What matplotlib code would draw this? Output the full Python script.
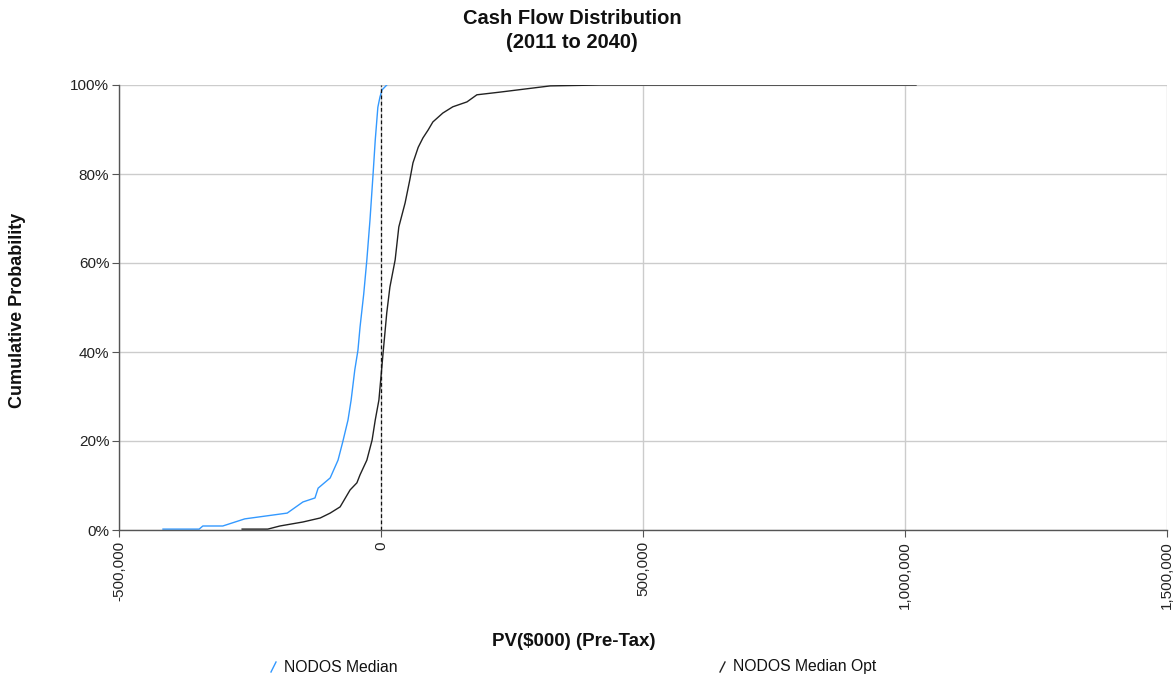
import matplotlib
matplotlib.use("Agg")
import matplotlib.pyplot as plt
from matplotlib.lines import Line2D
from matplotlib.ticker import FuncFormatter

plt.rcParams['font.family'] = ['Liberation Sans', 'DejaVu Sans']

# PV values ($000) and cumulative probability (%)
median_pv = [-416000, -347000, -340000, -302000, -260000, -179000, -149000, -126000,
             -120000, -97000, -82000, -73000, -63000, -57000, -50000, -44000, -40000,
             -33000, -27000, -21000, -15000, -11000, -6000, -2000, 2000, 11000]
median_p = [0.2, 0.2, 0.9, 0.9, 2.5, 3.8, 6.3, 7.2, 9.4, 11.7, 15.7, 19.8, 24.7, 29.2,
            36.0, 40.4, 45.6, 53.0, 60.7, 69.7, 80.2, 87.6, 95.0, 97.3, 98.9, 100.0]

opt_pv = [-265000, -216000, -193000, -149000, -116000, -97000, -78000, -59000, -46000,
          -40000, -27000, -17000, -11000, -4000, 4000, 11000, 17000, 27000, 34000, 46000,
          55000, 61000, 71000, 80000, 90000, 99000, 118000, 137000, 164000, 183000,
          227000, 323000, 418000, 1021000]
opt_p = [0.2, 0.2, 0.9, 1.8, 2.7, 3.8, 5.2, 9.0, 10.6, 12.4, 15.7, 20.2, 24.7, 29.2,
         39.8, 48.8, 54.6, 60.7, 68.1, 73.5, 78.7, 82.5, 86.0, 88.1, 89.9, 91.7, 93.7,
         95.1, 96.2, 97.8, 98.4, 99.8, 100.0, 100.0]

series_names = ["NODOS Median", "NODOS Median Opt"]
series_colors = ["#3399ff", "#222222"]

x_ticks = [-500000, 0, 500000, 1000000, 1500000]
y_ticks = [0, 20, 40, 60, 80, 100]

fig = plt.figure(figsize=(11.74, 6.77), dpi=100)
ax = fig.add_axes([119/1174, 1-530/677, (1167-119)/1174, (530-85)/677])

ax.plot(median_pv, median_p, color=series_colors[0], lw=1.0)
ax.plot(opt_pv, opt_p, color=series_colors[1], lw=1.0)
ax.axvline(0, ymin=0, ymax=1, color="#111111", lw=0.9, ls=(0, (3, 2)))

ax.set_xlim(-500000, 1500000)
ax.set_ylim(0, 100)
ax.set_xticks(x_ticks)
ax.set_yticks(y_ticks)
ax.xaxis.set_major_formatter(FuncFormatter(lambda v, p: f"{int(v):,}"))
ax.yaxis.set_major_formatter(FuncFormatter(lambda v, p: f"{int(v)}%"))
for lab in ax.get_xticklabels():
    lab.set_rotation(90)
    lab.set_va('top')
ax.tick_params(axis='x', labelsize=11, length=5, color="#555555", pad=3, labelcolor="#222222")
ax.tick_params(axis='y', labelsize=11, length=5, color="#555555", pad=2, labelcolor="#222222")

ax.grid(True, color="#cccccc", lw=1.0)
ax.set_axisbelow(True)
for s in ['top', 'right']:
    ax.spines[s].set_visible(False)
for s in ['left', 'bottom']:
    ax.spines[s].set_color("#555555")
    ax.spines[s].set_linewidth(1.0)

fig.text(572/1174, 1-18/677, "Cash Flow Distribution", ha='center', va='center',
         fontsize=14.5, fontweight='bold', color="#111111")
fig.text(572/1174, 1-43/677, "(2011 to 2040)", ha='center', va='center',
         fontsize=14.5, fontweight='bold', color="#111111")
fig.text(18/1174, 1-310/677, "Cumulative Probability", rotation=90, ha='center', va='center',
         fontsize=13, fontweight='bold', color="#111111")
fig.text(574/1174, 1-642/677, "PV($000) (Pre-Tax)", ha='center', va='center',
         fontsize=13.5, fontweight='bold', color="#111111")

legend_x = [271, 720]
for lx, name, col in zip(legend_x, series_names, series_colors):
    fig.add_artist(Line2D([lx/1174, (lx+5)/1174], [1-672/677, 1-662/677],
                          color=col, lw=1.0, transform=fig.transFigure))
    fig.text((lx+13)/1174, 1-667/677, name, ha='left', va='center', fontsize=11.3,
             color="#111111")

fig.savefig("out.png", dpi=100)
